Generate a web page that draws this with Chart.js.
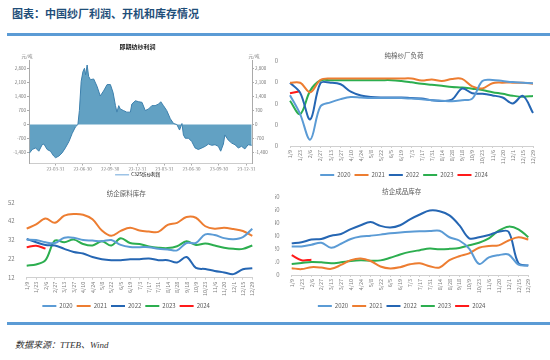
<!DOCTYPE html>
<html>
<head>
<meta charset="utf-8">
<script src="https://cdn.jsdelivr.net/npm/chart.js@4.4.1/dist/chart.umd.min.js"></script>
<style>
body { margin: 0; width: 550px; height: 360px; background: #fff; position: relative; overflow: hidden; font-family: "Noto Sans CJK SC", "Noto Sans", sans-serif; }
canvas { position: absolute; }
#title { position: absolute; left: 12px; top: 5px; font-size: 11px; font-weight: bold; color: #1f4e79; }
.rule { position: absolute; left: 7px; right: 0; height: 3px; background: #5b9bd5; }
#src { position: absolute; left: 15px; top: 338px; font-size: 9px; font-style: italic; color: #333; font-family: "Liberation Serif", "Noto Sans CJK SC", serif; }
</style>
</head>
<body>
<div id="title">图表：中国纱厂利润、开机和库存情况</div>
<div class="rule" style="top:33px"></div>
<canvas id="c1" width="275" height="147" style="left:0;top:40px"></canvas>
<canvas id="c2" width="275" height="148" style="left:275px;top:40px"></canvas>
<canvas id="c3" width="275" height="139" style="left:0;top:180px"></canvas>
<canvas id="c4" width="275" height="140" style="left:275px;top:180px"></canvas>
<div class="rule" style="top:322px"></div>
<div id="src">数据来源：TTEB、Wind</div>
<script>
// ---- data ----
// spot yarn profit, x = days since 2022-01-01
const profitDays = [2,11,22,33,44,50,61,72,83,89,100,111,122,134,145,156,164,169,175,181,186,190,195,200,206,217,228,239,250,262,273,282,290,295,301,306,317,328,340,345,357,368,379,390,401,412,423,435,442,451,462,474,485,496,505,513,518,524,535,546,557,568,580,591,602,613,624,635,643,652,657,668,680,691,702,713,724,735,747];
const profitValues = [-1420,-1250,-1170,-1335,-1010,-975,-1250,-1335,-1580,-1660,-1580,-1420,-1170,-850,-440,-115,0,700,2165,2650,2815,2490,2980,2410,2245,2280,1920,1430,1680,2000,2000,1600,945,620,945,780,700,620,620,1025,1190,1140,1110,700,780,945,945,1025,1140,945,700,290,50,0,-275,50,-520,-685,-685,-850,-1170,-1250,-1170,-1090,-975,-1040,-1010,-1090,-1335,-975,-520,-770,-930,-1010,-1170,-1090,-1220,-1010,-1040];
const quarterDays = [89,180,272,364,454,545,637,729];
const quarterLabels = ['22-03-31','22-06-30','22-09-30','22-12-31','23-03-31','23-06-30','23-09-30','23-12-31'];
const profitTicks = [-1400,-700,0,700,1400,2100,2800];

const weekLabels = ['1/9','1/23','2/6','2/27','3/13','3/27','4/10','4/24','5/8','5/22','6/5','6/19','7/3','7/17','7/31','8/14','8/28','9/18','10/9','10/23','11/6','11/20','12/1','12/15','12/29'];
const years = ['2020','2021','2022','2023','2024'];

// 纯棉纱厂负荷
const load2020 = [47.7,30,6,37,41,44,46,45.5,45,45,45,45,44.5,44,43,42.5,42,43,44.5,61,62,61,60,59.5,59];
const load2021 = [59.4,59.4,50.5,62,63.4,63.4,63.4,63.4,63.4,63.4,63.4,63.4,63.4,61.5,62.5,61,63,63,56,54,59,59.5,59.5,59.4,58.5];
const load2022 = [59.4,50,25,59,59.4,58,51,47.5,46,45.5,45.5,45.5,45,44.6,43,42.3,43.5,54,49.5,49,47.5,45.5,40,47,31];
const load2023 = [42.5,30,52,61.5,61.8,61.8,61.8,61.8,61.8,61.8,61.8,61,59.8,58.5,57.5,56.5,55.5,55,53.8,52.5,50.5,49,47.2,46.2,47];
const load2024 = [49.5,51.5];

// 纺企原料库存
const raw2020 = [32.2,32,30.8,30.4,33.2,33.2,32,31.7,31.3,32,29.4,28.3,28.2,28.2,27.3,27,26.5,30.4,30.4,35,34.6,33,32.4,33.5,38];
const raw2021 = [38,40.3,43.4,41.1,44.9,45.8,45.4,43,37,34.2,36.8,38.5,37,36.5,36.3,40,41.1,44.2,43.8,39.3,38,38.5,37.8,36.8,34.2];
const raw2022 = [32.5,30.8,29.4,29.1,27.3,25.6,24.8,23,21.8,21.3,21.3,21.8,21.8,22.2,21.3,21.3,20.1,23,17.2,16.6,15.6,14.8,13.9,16.5,17];
const raw2023 = [18.4,19,21.3,31.7,30.8,32.2,29.9,29.1,31.3,29.1,32.9,30.4,29.9,28.6,27.9,27.7,28.7,31.3,29.4,30.1,29.1,27.9,27.3,27.3,29.1];
const raw2024 = [28.2,29,27.4];

// 纺企成品库存
const fin2020 = [21.9,21.9,23.2,24.7,20.9,23.9,27.6,29.4,30.1,30.9,31.9,32.6,33.1,33.4,33.6,33.9,28.9,26.4,20.2,8.5,13.5,15.2,15.7,8,7.2];
const fin2021 = [5.2,4.5,6,5.7,4.7,7.7,11.4,12.7,10.7,6.5,5,6,8.2,9,6.7,5.7,11.4,14.4,16.6,20.9,22.2,22.7,26.4,28.9,27.1];
const fin2022 = [24.2,25.1,27.1,27.6,30.1,31.4,35.1,38.1,40.5,37.6,36.4,38.1,42.6,46.3,49.3,48.8,45.6,38.1,28.1,28.9,30.6,33.1,33.1,9,7.2];
const fin2023 = [8.5,9.2,10,9.7,9,9.7,10.7,11.2,11,11.2,13.2,15.7,17.7,19,20.2,19.7,20,20.7,22.7,24.7,28,33.9,37,35,28.9];
const fin2024 = [15.2,11.3,11.7];

const yearColors = ['#5b9bd5', '#ed7d31', '#2566b3', '#2cae4f', '#ff1a1a'];

const FONT = "'Noto Sans CJK SC', 'Noto Sans', sans-serif";
Chart.defaults.font.family = FONT;
Chart.defaults.color = '#595959';
Chart.defaults.animation = false;

// ---- chart 1: 即期纺纱利润 ----
const unitLabel = {
    id: 'unitLabel',
    afterDraw(chart) {
        const ctx = chart.ctx;
        const top = chart.chartArea.top;
        ctx.save();
        ctx.font = '4.5px ' + FONT;
        ctx.fillStyle = '#777';
        ctx.textAlign = 'center';
        ctx.fillText('元/吨', chart.scales.y.right - 2, top - 4);
        ctx.fillText('元/吨', chart.scales.y1.left + 2, top - 4);
        ctx.restore();
    }
};

function profitAxis(pos, w) {
    return {
        position: pos,
        min: -1950,
        max: 3220,
        afterBuildTicks: s => { s.ticks = profitTicks.map(v => ({ value: v })); },
        afterFit: s => { s.width = w; },
        ticks: {
            font: { size: 4.5 },
            color: '#777',
            padding: 1,
            callback: v => v.toLocaleString('en-US'),
        },
        grid: { drawOnChartArea: false, tickLength: 2, color: '#aaa' },
        border: { color: '#aaa' },
    };
}

new Chart(document.getElementById('c1'), {
    type: 'line',
    data: {
        datasets: [{
            label: 'C32S纺纱利润',
            data: profitDays.map((d, i) => ({ x: d, y: profitValues[i] })),
            borderColor: '#3d80ad',
            backgroundColor: 'rgba(90,156,192,0.95)',
            borderWidth: 1,
            fill: 'origin',
            pointRadius: 0,
            tension: 0,
        }],
    },
    options: {
        responsive: false,
        layout: { padding: { left: 0, right: 0, top: 0, bottom: 0 } },
        scales: {
            x: {
                type: 'linear',
                min: 0,
                max: 748,
                afterBuildTicks: s => { s.ticks = quarterDays.map(v => ({ value: v })); },
                afterFit: s => { s.height = 7; },
                ticks: {
                    autoSkip: false,
                    maxRotation: 0,
                    font: { size: 4.5 },
                    color: '#777',
                    padding: 1,
                    callback: (v, i) => quarterLabels[i],
                },
                grid: { drawOnChartArea: false, tickLength: 2, color: '#aaa' },
                border: { color: '#ccc' },
            },
            y: profitAxis('left', 29),
            y1: profitAxis('right', 23),
        },
        plugins: {
            title: {
                display: true,
                text: '即期纺纱利润',
                color: '#222',
                font: { size: 6, weight: 'bold' },
                padding: { top: 3, bottom: 10 },
            },
            legend: {
                position: 'bottom',
                labels: {
                    font: { size: 4.5 },
                    color: '#777',
                    padding: 2,
                    usePointStyle: true,
                    pointStyleWidth: 14,
                    generateLabels: () => [{
                        text: 'C32S纺纱利润',
                        strokeStyle: '#9dc3e6',
                        fillStyle: '#9dc3e6',
                        lineWidth: 1.5,
                        pointStyle: 'line',
                        datasetIndex: 0,
                    }],
                },
            },
            tooltip: { enabled: false },
        },
    },
    plugins: [unitLabel],
});

// ---- charts 2-4: yearly lines ----
function yearChart(id, title, series, yMin, yMax, step, box) {
    return new Chart(document.getElementById(id), {
        type: 'line',
        data: {
            labels: weekLabels,
            datasets: series.map((s, i) => ({
                label: years[i],
                data: s,
                borderColor: yearColors[i],
                backgroundColor: yearColors[i],
                borderWidth: 2,
                pointRadius: 0,
                tension: 0.35,
                fill: false,
            })),
        },
        options: {
            responsive: false,
            layout: { padding: { left: 0, right: box.right, top: 0, bottom: box.bottom } },
            scales: {
                x: {
                    offset: false,
                    afterFit: s => { s.height = box.xH; },
                    ticks: {
                        autoSkip: false,
                        minRotation: 90,
                        maxRotation: 90,
                        font: { size: 5.5 },
                        color: '#7f7f7f',
                        padding: 2,
                    },
                    grid: { drawOnChartArea: false, tickLength: 2, color: '#d0d0d0' },
                    border: { color: '#d0d0d0' },
                },
                y: {
                    min: yMin,
                    max: yMax,
                    afterFit: s => { s.width = box.yW; },
                    ticks: { stepSize: step, font: { size: 6 }, color: '#7f7f7f', padding: 4 },
                    grid: { display: false },
                    border: { display: false },
                },
            },
            plugins: {
                title: {
                    display: true,
                    text: title,
                    color: '#595959',
                    font: { size: 6.5, weight: 'normal' },
                    padding: { top: box.tTop, bottom: box.tBottom },
                },
                legend: {
                    position: 'bottom',
                    labels: {
                        font: { size: 6 },
                        color: '#595959',
                        padding: 4,
                        usePointStyle: true,
                        pointStyle: 'line',
                        pointStyleWidth: 14,
                    },
                },
                tooltip: { enabled: false },
            },
        },
    });
}

yearChart('c2', '纯棉纱厂负荷', [load2020, load2021, load2022, load2023, load2024], 0, 80, 20,
    { yW: 15, right: 17, bottom: 0, xH: 22, tTop: 12, tBottom: 1 });
yearChart('c3', '纺企原料库存', [raw2020, raw2021, raw2022, raw2023, raw2024], 12, 52, 10,
    { yW: 26.7, right: 22.7, bottom: 0, xH: 21.3, tTop: 10, tBottom: 4.5 });
yearChart('c4', '纺企成品库存', [fin2020, fin2021, fin2022, fin2023, fin2024], 0, 60, 10,
    { yW: 16.7, right: 21.7, bottom: 1, xH: 24, tTop: 7.8, tBottom: 1 });
</script>
</body>
</html>
